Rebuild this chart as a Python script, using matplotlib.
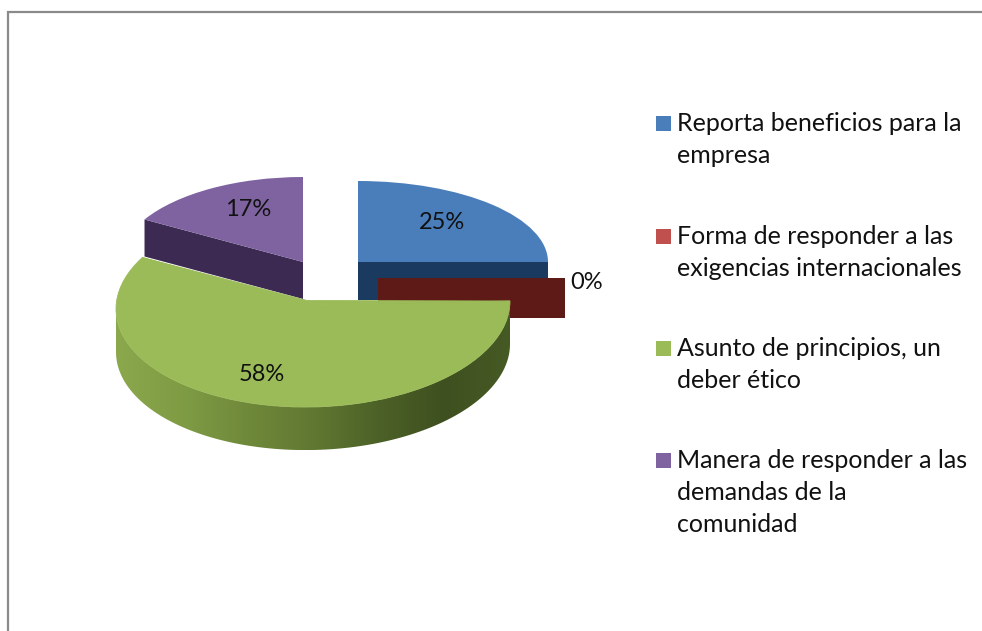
import numpy as np
import matplotlib
matplotlib.use("Agg")
import matplotlib.pyplot as plt
from matplotlib.patches import Polygon, Rectangle
from matplotlib.colors import LinearSegmentedColormap
from matplotlib.transforms import Affine2D

# --- data ---
categories = ["Reporta beneficios para la\nempresa",
              "Forma de responder a las\nexigencias internacionales",
              "Asunto de principios, un\ndeber ético",
              "Manera de responder a las\ndemandas de la\ncomunidad"]
values = [3, 0, 7, 2]

# --- styles / layout (pixel space) ---
W, H = 982, 631
top_cols = ["#4a7ebb", "#c0504d", "#9bbb59", "#7f63a1"]
face_cols = ["#1b3a5f", "#5e1a17", "#4d6128", "#3c2a52"]
geom = [  # cx, cy, rx, ry, depth, shear (px of y per unit of x, perspective tilt)
    (358, 262, 190, 81, 38, 0),
    (378, 278, 187, 0, 40, 0),
    (313, 305, 197, 102, 43, -4),
    (303, 262, 183, 85, 37, 0),
]
apex_fix = (307, 300.5)   # visible apex of the front slice
label_pos = [(442, 221), (587, 281), (262, 373), (248, 208)]
legend_y = [123, 236, 348, 460]
FONT = "Lato"
LINE_PX = 32

fig = plt.figure(figsize=(W / 100, H / 100), dpi=100)
ax = fig.add_axes([0, 0, 1, 1])
wedges, _ = ax.pie(values, startangle=90, counterclock=False, radius=1,
                   colors=top_cols, wedgeprops=dict(linewidth=0))
ax.set_aspect("auto")
ax.set_xlim(0, W)
ax.set_ylim(H, 0)
ax.axis("off")


def rim(g, deg):
    t = np.radians(deg)
    c, s = np.cos(t), np.sin(t)
    return g[0] + g[2] * c, g[1] - g[3] * s + g[5] * c


def cut_face(g, deg, color, z):
    x, y = rim(g, deg)
    ax.add_patch(Polygon([(g[0], g[1]), (x, y), (x, y + g[4]), (g[0], g[1] + g[4])],
                         closed=True, fc=color, ec="none", zorder=z))


order = [0, 1, 3, 2]
for z, i in enumerate(order):
    w, g = wedges[i], geom[i]
    z0 = 2 + z * 3
    if i in (0, 1):
        cut_face(g, w.theta1, face_cols[i], z0)
    elif i == 3:
        cut_face(g, w.theta2, face_cols[i], z0)
    else:
        th = np.linspace(180, 360, 120)
        xs, ys = rim(g, th)
        poly = np.r_[np.c_[xs, ys], np.c_[xs[::-1], ys[::-1] + g[4]]]
        cmap = LinearSegmentedColormap.from_list(
            "side", ["#8ba84d", "#7f9c45", "#6f893a", "#617832", "#4c6127", "#3f5020", "#465a24"])
        im = ax.imshow(np.linspace(0, 1, 256)[None, :], cmap=cmap, aspect="auto",
                       extent=(g[0] - g[2], g[0] + g[2], g[1] + g[3] + g[4], g[1]), zorder=z0)
        clip = Polygon(poly, closed=True, transform=ax.transData, fc="none", ec="none")
        ax.add_patch(clip)
        im.set_clip_path(clip)
        # top-face fill between the ellipse centre and the visible apex
        x0, y0 = rim(g, w.theta1)
        x1, y1 = rim(g, w.theta2)
        ax.add_patch(Polygon([(x1, y1), apex_fix, (x0, y0), (g[0], g[1])], closed=True,
                             fc=top_cols[i], ec=top_cols[i], lw=0.6, zorder=z0 + 1))
        w.set_edgecolor(top_cols[i])
        w.set_linewidth(0.6)
    w.set_transform(Affine2D().from_values(g[2], g[5], 0, -g[3], g[0], g[1]) + ax.transData)
    w.set_zorder(z0 + 1)
ax.set_xlim(0, W)
ax.set_ylim(H, 0)

total = sum(values)
for v, (x, y) in zip(values, label_pos):
    ax.text(x, y + 8, f"{100 * v / total:.0f}%", ha="center", va="baseline",
            fontsize=17, family=FONT, color="#111111", zorder=30)

for lab, col, y in zip(categories, top_cols, legend_y):
    ax.add_patch(Rectangle((656, y - 7), 15, 15, fc=col, ec="none", zorder=30))
    for k, line in enumerate(lab.split("\n")):
        ax.text(677, y + 8 + k * LINE_PX, line, ha="left", va="baseline",
                fontsize=18, family=FONT, color="#111111", zorder=30)

ax.plot([8, 8, W], [H, 12, 12], color="#8a8a8a", lw=1.6, solid_joinstyle="miter", zorder=40)

fig.savefig("out.png", dpi=100, facecolor="white")
